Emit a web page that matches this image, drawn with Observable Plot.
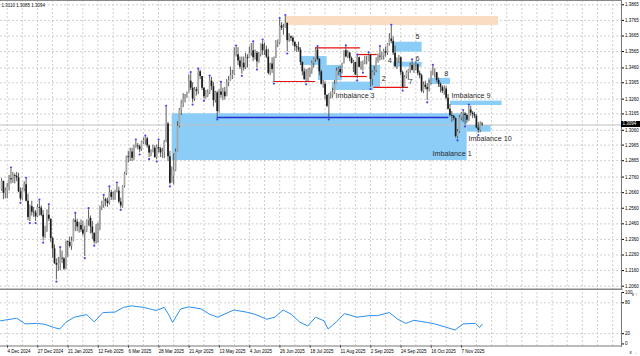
<!DOCTYPE html>
<html><head><meta charset="utf-8">
<script src="https://cdn.jsdelivr.net/npm/d3@7"></script>
<script src="https://cdn.jsdelivr.net/npm/@observablehq/plot@0.6"></script>
<style>
html,body{margin:0;padding:0;background:#fff;}
#wrap{position:relative;width:640px;height:356px;overflow:hidden;background:#fff;font-family:"Liberation Sans",Arial,sans-serif;}
#main,#sub{position:absolute;left:0;}
#main{top:0;} #sub{top:289px;}
#cur{position:absolute;left:621px;width:19px;height:6px;background:#000;color:#fff;font-size:4.5px;line-height:6px;text-indent:1.5px;}
</style></head><body>
<div id="wrap"><div id="main"></div><div id="sub"></div><div id="cur"></div></div>
<script>
// ---------- data ----------
const header = "1.3110 1.3085 1.3094";
const currentPrice = 1.3094;
const firstIndex = -3;      // bar index of first bar (29 Nov 2024); 4 Dec 2024 = 0
const firstOpen = 1.2680;
const close = [
1.2733,
1.2656,1.2670,1.2695,1.2750,1.2743,
1.2770,1.2765,1.2755,1.2665,1.2620,
1.2682,1.2710,1.2605,1.2500,1.2570,
1.2535,1.2530,1.2505,1.2565,
1.2560,1.2515,1.2375,1.2420,
1.2515,1.2490,1.2365,1.2300,1.2205,
1.2195,1.2205,1.2240,1.2235,1.2170,
1.2345,1.2340,1.2315,1.2350,1.2480,
1.2470,1.2440,1.2450,1.2420,1.2395,
1.2410,1.2480,1.2495,1.2440,1.2400,
1.2345,1.2445,1.2445,1.2565,1.2580,
1.2615,1.2605,1.2590,1.2660,1.2630,
1.2635,1.2665,1.2670,1.2600,1.2575,
1.2700,1.2780,1.2890,1.2885,1.2920,
1.2880,1.2950,1.2960,1.2955,1.2935,
1.2985,1.2995,1.3005,1.2960,1.2915,
1.2920,1.2945,1.2885,1.2950,1.2940,
1.2915,1.2920,1.2985,1.3100,1.2890,
1.2720,1.2765,1.2800,1.2920,1.3085,
1.3190,1.3230,1.3255,1.3290,1.3300,
1.3375,1.3330,1.3260,1.3320,1.3310,
1.3435,1.3405,1.3330,1.3275,1.3280,
1.3300,1.3375,1.3340,1.3250,1.3300,
1.3180,1.3305,1.3285,1.3305,1.3275,
1.3365,1.3380,1.3410,1.3420,1.3540,
1.3545,1.3505,1.3465,1.3490,1.3460,
1.3525,1.3520,1.3555,1.3570,1.3525,
1.3555,1.3500,1.3545,1.3610,1.3570,
1.3575,1.3530,1.3425,1.3485,1.3450,
1.3525,1.3615,1.3620,1.3730,1.3715,
1.3720,1.3745,1.3635,1.3660,1.3650,
1.3625,1.3595,1.3590,1.3575,1.3495,
1.3435,1.3385,1.3415,1.3415,1.3440,
1.3490,1.3515,1.3575,1.3515,1.3435,
1.3355,1.3355,1.3285,1.3215,1.3280,
1.3285,1.3300,1.3355,1.3440,1.3450,
1.3430,1.3490,1.3570,1.3530,1.3555,
1.3520,1.3490,1.3495,1.3415,1.3525,
1.3465,1.3485,1.3490,1.3500,1.3505,
1.3540,1.3385,1.3430,1.3440,1.3505,
1.3535,1.3530,1.3535,1.3565,1.3555,
1.3610,1.3645,1.3630,1.3555,1.3470,
1.3515,1.3525,1.3430,1.3335,1.3400,
1.3430,1.3445,1.3475,1.3445,1.3480,
1.3480,1.3425,1.3410,1.3310,1.3350,
1.3335,1.3320,1.3360,1.3430,1.3430,
1.3430,1.3380,1.3355,1.3335,1.3310,
1.3325,1.3265,1.3195,1.3155,1.3150,
1.3135,1.3020,1.3050,1.3140,1.3165,
1.3165,1.3155,1.3125,1.3190,1.3170,
1.3160,1.3150,1.3075,1.3060,1.3100,
1.3094];
const high = [
1.2750,
1.2710,1.2690,1.2720,1.2770,1.2811,
1.2790,1.2780,1.2790,1.2785,1.2690,
1.2690,1.2730,1.2745,1.2650,1.2580,
1.2605,1.2565,1.2545,1.2585,
1.2605,1.2575,1.2545,1.2445,
1.2550,1.2575,1.2490,1.2375,1.2325,
1.2235,1.2245,1.2300,1.2285,1.2245,
1.2350,1.2350,1.2375,1.2375,1.2490,
1.2520,1.2490,1.2470,1.2485,1.2475,
1.2445,1.2485,1.2550,1.2510,1.2475,
1.2400,1.2455,1.2465,1.2575,1.2605,
1.2635,1.2625,1.2625,1.2690,1.2675,
1.2665,1.2675,1.2715,1.2695,1.2625,
1.2705,1.2790,1.2895,1.2925,1.2945,
1.2945,1.2965,1.2990,1.2975,1.2965,
1.2990,1.3010,1.3015,1.3015,1.2965,
1.2935,1.2965,1.2960,1.2965,1.2990,
1.2950,1.2945,1.2995,1.3207,1.3110,
1.2925,1.2825,1.2910,1.2940,1.3115,
1.3200,1.3250,1.3295,1.3290,1.3305,
1.3415,1.3423,1.3365,1.3335,1.3335,
1.3445,1.3445,1.3405,1.3335,1.3315,
1.3320,1.3400,1.3400,1.3365,1.3310,
1.3310,1.3320,1.3360,1.3330,1.3335,
1.3385,1.3405,1.3465,1.3445,1.3590,
1.3593,1.3590,1.3530,1.3530,1.3530,
1.3555,1.3545,1.3595,1.3616,1.3620,
1.3575,1.3565,1.3560,1.3615,1.3632,
1.3620,1.3600,1.3580,1.3490,1.3525,
1.3530,1.3635,1.3640,1.3770,1.3750,
1.3740,1.3789,1.3750,1.3680,1.3665,
1.3660,1.3625,1.3610,1.3625,1.3590,
1.3500,1.3455,1.3450,1.3455,1.3460,
1.3505,1.3525,1.3588,1.3590,1.3520,
1.3445,1.3380,1.3370,1.3285,1.3295,
1.3305,1.3330,1.3380,1.3460,1.3465,
1.3470,1.3490,1.3570,1.3595,1.3570,
1.3560,1.3530,1.3510,1.3495,1.3535,
1.3530,1.3500,1.3505,1.3535,1.3535,
1.3550,1.3545,1.3440,1.3470,1.3525,
1.3550,1.3590,1.3560,1.3580,1.3595,
1.3615,1.3680,1.3726,1.3660,1.3600,
1.3525,1.3540,1.3530,1.3440,1.3410,
1.3440,1.3450,1.3490,1.3505,1.3485,
1.3500,1.3485,1.3440,1.3420,1.3370,
1.3375,1.3360,1.3380,1.3440,1.3470,
1.3455,1.3420,1.3395,1.3365,1.3345,
1.3345,1.3340,1.3290,1.3225,1.3180,
1.3155,1.3140,1.3065,1.3155,1.3175,
1.3180,1.3175,1.3165,1.3215,1.3215,
1.3180,1.3175,1.3160,1.3110,1.3115,
1.3110];
const low = [
1.2670,
1.2615,1.2620,1.2620,1.2670,1.2715,
1.2720,1.2716,1.2730,1.2660,1.2605,
1.2610,1.2665,1.2600,1.2480,1.2475,
1.2510,1.2500,1.2475,1.2500,
1.2510,1.2505,1.2350,1.2365,
1.2405,1.2475,1.2340,1.2240,1.2200,
1.2100,1.2155,1.2160,1.2205,1.2160,
1.2165,1.2245,1.2305,1.2290,1.2345,
1.2410,1.2410,1.2400,1.2405,1.2380,
1.2250,1.2405,1.2445,1.2395,1.2360,
1.2330,1.2330,1.2335,1.2415,1.2545,
1.2560,1.2570,1.2565,1.2580,1.2610,
1.2610,1.2610,1.2660,1.2590,1.2560,
1.2560,1.2690,1.2770,1.2850,1.2860,
1.2860,1.2865,1.2945,1.2935,1.2915,
1.2925,1.2970,1.2965,1.2945,1.2885,
1.2890,1.2915,1.2880,1.2870,1.2915,
1.2885,1.2880,1.2877,1.2980,1.2860,
1.2710,1.2730,1.2710,1.2795,1.2920,
1.3075,1.3155,1.3205,1.3235,1.3265,
1.3300,1.3315,1.3235,1.3245,1.3280,
1.3290,1.3385,1.3315,1.3260,1.3260,
1.3270,1.3290,1.3315,1.3210,1.3235,
1.3140,1.3170,1.3265,1.3250,1.3255,
1.3285,1.3340,1.3375,1.3385,1.3410,
1.3530,1.3475,1.3450,1.3420,1.3440,
1.3450,1.3460,1.3520,1.3535,1.3500,
1.3510,1.3460,1.3490,1.3530,1.3540,
1.3540,1.3520,1.3415,1.3410,1.3425,
1.3370,1.3520,1.3590,1.3610,1.3700,
1.3670,1.3715,1.3563,1.3625,1.3630,
1.3600,1.3565,1.3560,1.3560,1.3475,
1.3410,1.3380,1.3365,1.3370,1.3400,
1.3420,1.3460,1.3495,1.3505,1.3410,
1.3350,1.3330,1.3255,1.3205,1.3140,
1.3260,1.3265,1.3290,1.3355,1.3410,
1.3405,1.3420,1.3485,1.3525,1.3520,
1.3500,1.3485,1.3430,1.3410,1.3390,
1.3460,1.3445,1.3440,1.3480,1.3480,
1.3500,1.3335,1.3345,1.3410,1.3430,
1.3490,1.3505,1.3510,1.3510,1.3530,
1.3540,1.3600,1.3615,1.3540,1.3460,
1.3450,1.3490,1.3410,1.3325,1.3330,
1.3390,1.3380,1.3425,1.3440,1.3425,
1.3440,1.3410,1.3390,1.3300,1.3295,
1.3320,1.3250,1.3305,1.3350,1.3410,
1.3395,1.3365,1.3335,1.3300,1.3295,
1.3285,1.3255,1.3190,1.3145,1.3110,
1.3120,1.3010,1.3005,1.3040,1.3120,
1.3110,1.3095,1.3105,1.3115,1.3150,
1.3135,1.3135,1.3070,1.3040,1.3045,
1.3085];

// axis ticks
const priceTicks = [1.3865,1.3765,1.3665,1.3565,1.3460,1.3365,1.3260,1.3165,1.3060,1.2965,1.2865,1.2760,1.2660,1.2560,1.2460,1.2360,1.2260,1.2160,1.2060];
const priceTickLabels = ["1.3865","1.3765","1.3665","1.3565","1.3460","1.3365","1.3260","1.3165","1.3060","1.2965","1.2865","1.2760","1.2660","1.2560","1.2460","1.2360","1.2260","1.2160","1.2060"];
const dateTickIdx = [0,16,32,48,64,80,96,112,128,144,160,176,192,208,224,240];
const dateTickLabels = ["4 Dec 2024","27 Dec 2024","21 Jan 2025","12 Feb 2025","6 Mar 2025","28 Mar 2025","21 Apr 2025","13 May 2025","4 Jun 2025","26 Jun 2025","18 Jul 2025","11 Aug 2025","2 Sep 2025","24 Sep 2025","16 Oct 2025","7 Nov 2025"];
const gridIdx = [0,8,16,24,32,40,48,56,64,72,80,88,96,104,112,120,128,136,144,152,160,168,176,184,192,200,208,216,224,232,240,248,256,264,272,280,288,296,304,312,320];
const oscTicks = [100,80,20,0];

// imbalance zones (bar index, price)
const zoneStart = [87.2, 155.0, 164.5, 171.8, 192.0, 204.2, 204.2, 222.7, 234.3, 243.1];
const zoneEnd   = [243.1,169.1, 177.2, 193.8, 197.3, 219.3, 219.3, 234.3, 261.6, 255.8];
const zoneTop   = [1.3166,1.3533,1.3476,1.3369,1.3476,1.3625,1.3497,1.3393,1.3247,1.3091];
const zoneBot   = [1.2866,1.3476,1.3379,1.3315,1.3336,1.3561,1.3465,1.3354,1.3219,1.3048];
const supplyStart = [147.2], supplyEnd = [259.7], supplyTop = [1.3790], supplyBot = [1.3732];
// structure lines
const redStart = [141, 163, 176.2, 185, 193.8];
const redEnd   = [163, 186.7, 190.3, 195.6, 212.1];
const redLevel = [1.3373, 1.3589, 1.3405, 1.3546, 1.3335];
const blueStart = [111], blueEnd = [233.4], blueLevel = [1.3142];
// labels
const zoneLabels = ["Imbalance 1","Imbalance 3","Imbalance 9","Imbalance 10"];
const zoneLabelIdx = [224.8, 173.5, 234.8, 243.8];
const zoneLabelPrice = [1.2913, 1.3283, 1.3283, 1.3005];
const numLabels = ["2","4","5","6","7","8"];
const numLabelIdx = [199, 202.2, 216.9, 216.9, 213.2, 232];
const numLabelPrice = [1.3390, 1.3508, 1.3662, 1.3521, 1.3375, 1.3426];
// oscillator
const oscIdx = [-3.5,5,9.5,16,20,24.6,27.8,31,35.4,42,46,50.6,57,61.4,65.7,72.2,78.7,83,85.2,87.4,91.7,96,102.5,106.8,111.2,119.8,126.3,130.7,137.2,141.5,145.8,150,154.4,158.8,163,167.4,169.6,174,178.3,184.8,191.3,195.6,202,206.4,210.7,215,221.6,225.9,232.4,236.7,241,247.5,249.7,251];
const oscVal = [45,50,39,40,38,32,29,42,52,57,43,61,62,71,74,71,65,71,58,42,68,72,68,58,52,66,62,58,48,52,66,58,43,35,52,45,29,43,59,52,55,55,61,48,40,46,42,39,32,27,39,40,32,38];

// ---------- build ----------
const bars = close.map((c, k) => ({i: k + firstIndex, o: k ? close[k-1] : firstOpen, h: high[k], l: low[k], c}));
const up = bars.filter(d => d.c >= d.o), dn = bars.filter(d => d.c < d.o);
const fracUp = [], fracDn = [];
for (let k = 2; k < bars.length - 2; k++) {
  const h = high, l = low;
  if (h[k] > h[k-1] && h[k] > h[k-2] && h[k] >= h[k+1] && h[k] >= h[k+2]) fracUp.push(bars[k]);
  if (l[k] < l[k-1] && l[k] < l[k-2] && l[k] <= l[k+1] && l[k] <= l[k+2]) fracDn.push(bars[k]);
}
const zones = zoneStart.map((s, k) => ({x1: s, x2: zoneEnd[k], y1: zoneBot[k], y2: zoneTop[k]}));
const supply = supplyStart.map((s, k) => ({x1: s, x2: supplyEnd[k], y1: supplyBot[k], y2: supplyTop[k]}));
const reds = redStart.map((s, k) => ({x1: s, x2: redEnd[k], y: redLevel[k]}));
const blues = blueStart.map((s, k) => ({x1: s, x2: blueEnd[k], y: blueLevel[k]}));
const zl = zoneLabels.map((t, k) => ({t, x: zoneLabelIdx[k], y: zoneLabelPrice[k]}));
const nl = numLabels.map((t, k) => ({t, x: numLabelIdx[k], y: numLabelPrice[k]}));
const osc = oscIdx.map((x, k) => ({x, v: oscVal[k]}));
const priceLabel = new Map(priceTicks.map((p, k) => [p, priceTickLabels[k]]));
const dateLabel = new Map(dateTickIdx.map((p, k) => [p, dateTickLabels[k]]));

const xDomain = [-3.541, 324.68];
const font = "Liberation Sans, Arial, sans-serif";
const grid = {stroke: "#c4c4c4", strokeDasharray: "2,2", strokeWidth: 0.8};

const main = Plot.plot({
  width: 640, height: 290, marginTop: 0, marginBottom: 1, marginLeft: 0, marginRight: 19,
  x: {domain: xDomain, axis: null},
  y: {domain: [1.20388, 1.38926], axis: null},
  style: {background: "transparent", fontFamily: font, color: "#000"},
  marks: [
    Plot.ruleY(priceTicks, grid),
    Plot.ruleX(gridIdx, grid),
    Plot.rect(supply, {x1: "x1", x2: "x2", y1: "y1", y2: "y2", fill: "#fadcc2"}),
    Plot.rect(zones, {x1: "x1", x2: "x2", y1: "y1", y2: "y2", fill: "#8ccdf7"}),
    Plot.ruleY([currentPrice], {stroke: "#c0c0c0", strokeWidth: 1}),
    Plot.ruleY(blues, {x1: "x1", x2: "x2", y: "y", stroke: "#1f2fd8", strokeWidth: 1.3}),
    Plot.ruleY(reds, {x1: "x1", x2: "x2", y: "y", stroke: "#e81010", strokeWidth: 1.2}),
    Plot.ruleX(bars, {x: "i", y1: "l", y2: "h", stroke: "#4a4a4a", strokeWidth: 0.9}),
    Plot.ruleX(up, {x: "i", y1: "o", y2: "c", stroke: "#a8a8a8", strokeWidth: 1.7}),
    Plot.ruleX(dn, {x: "i", y1: "o", y2: "c", stroke: "#1a1a1a", strokeWidth: 1.7}),
    Plot.dot(fracUp, {x: "i", y: "h", dy: -1.6, r: 1.1, fill: "#4646f2"}),
    Plot.dot(fracDn, {x: "i", y: "l", dy: 1.6, r: 1.1, fill: "#4646f2"}),
    Plot.text(zl, {x: "x", y: "y", text: "t", textAnchor: "start", fontSize: 7.2, fill: "#2a2a2a"}),
    Plot.text(nl, {x: "x", y: "y", text: "t", textAnchor: "middle", fontSize: 7.2, fill: "#2a2a2a"}),
    Plot.text([header], {frameAnchor: "top-left", dx: 1, dy: 3, fontSize: 4.5, fill: "#111"}),
    Plot.axisY(priceTicks, {anchor: "right", tickSize: 2, tickPadding: 1.5, fontSize: 4.5, tickFormat: d => priceLabel.get(d)}),
    Plot.frame({anchor: "right", stroke: "#777"}),
    Plot.frame({anchor: "top", stroke: "#888"}),
    Plot.frame({anchor: "bottom", stroke: "#8a8a8a", strokeWidth: 2.2})
  ]
});
document.getElementById("main").appendChild(main);

const sub = Plot.plot({
  width: 640, height: 67, marginTop: 3, marginBottom: 10.5, marginLeft: 0, marginRight: 19,
  x: {domain: xDomain, axis: null},
  y: {domain: [-4, 100], axis: null},
  style: {background: "transparent", fontFamily: font, color: "#000"},
  marks: [
    Plot.ruleY([80, 20], grid),
    Plot.ruleX(gridIdx, grid),
    Plot.line(osc, {x: "x", y: "v", stroke: "#2a8ff0", strokeWidth: 1}),
    Plot.axisY(oscTicks, {anchor: "right", tickSize: 2, tickPadding: 1.5, fontSize: 4.5}),
    Plot.axisX(dateTickIdx, {anchor: "bottom", tickSize: 2, tickPadding: 1.5, fontSize: 4.5, textAnchor: "start", dx: 0.3, tickFormat: d => dateLabel.get(d)}),
    Plot.frame({anchor: "right", stroke: "#777"}),
    Plot.frame({anchor: "bottom", stroke: "#777"})
  ]
});
document.getElementById("sub").appendChild(sub);

const cur = document.getElementById("cur");
cur.textContent = currentPrice.toFixed(4);
cur.style.top = (main.scale("y").apply(currentPrice) - 3) + "px";
</script>
</body></html>
